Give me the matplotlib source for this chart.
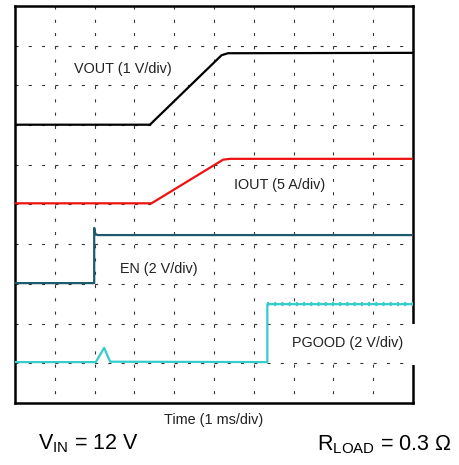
import matplotlib
matplotlib.use("Agg")
import matplotlib.pyplot as plt
from matplotlib.patches import Rectangle

plt.rcParams['font.family'] = ['Liberation Sans', 'DejaVu Sans']
plt.rcParams['mathtext.fontset'] = 'custom'
plt.rcParams['mathtext.rm'] = 'Liberation Sans'
plt.rcParams['lines.scale_dashes'] = False

# ---- data (time in divisions, amplitude in screen divisions) ----
vout_t = [0, 3.39, 5.19, 5.35, 10]
vout_v = [7.01, 7.01, 8.76, 8.81, 8.82]

iout_t = [0, 3.43, 5.23, 5.40, 10]
iout_v = [5.03, 5.03, 6.13, 6.15, 6.15]

en_t = [0, 1.99, 1.99, 2.02, 2.08, 10]
en_v = [3.02, 3.02, 4.41, 4.25, 4.23, 4.23]

pg_t = [0, 2.03, 2.24, 2.39, 6.34, 6.34, 10]
pg_v = [1.03, 1.03, 1.39, 1.04, 1.03, 2.49, 2.49]

labels = ["VOUT (1 V/div)", "IOUT (5 A/div)", "EN (2 V/div)", "PGOOD (2 V/div)"]
xlabel = "Time (1 ms/div)"
note_left = r"$\mathregular{V_{IN}}$ = 12 V"
note_right = r"$\mathregular{R_{LOAD}}$ = 0.3 Ω"

W, H = 459, 465
fig = plt.figure(figsize=(W / 100, H / 100), dpi=100)
L, R, T, B = 15, 413, 6, 403
ax = fig.add_axes([L / W, (H - B) / H, (R - L) / W, (B - T) / H])
ax.set_xlim(0, 10)
ax.set_ylim(0, 10)
ax.set_xticks([])
ax.set_yticks([])
for s in ax.spines.values():
    s.set_linewidth(1.8)
    s.set_color('black')

# grid: short dashes, three per division
gcol = '#333333'
for k in range(1, 10):
    ax.plot([k, k], [10, 0], color=gcol, lw=0.8, dashes=(2.2, 7.35), zorder=1)
    ax.plot([0, 10], [k, k], color=gcol, lw=0.8, dashes=(2.2, 7.35), zorder=1)

ax.plot(vout_t, vout_v, color='black', lw=1.6, zorder=3)
ax.plot(iout_t, iout_v, color='#ee1111', lw=1.6, zorder=3)
ax.plot(en_t, en_v, color='#1d5a6a', lw=1.6, zorder=3)
ax.plot(pg_t, pg_v, color='#35cccc', lw=1.6, zorder=3)
# ripple on the PGOOD high level
ax.plot(pg_t[-2:], pg_v[-2:], color='#35cccc', lw=3.0, dashes=(1.4, 3.8),
        solid_capstyle='butt', zorder=3)

fs = 10.4
box = dict(facecolor='white', edgecolor='none', pad=5)
ax.text(2.71, 8.31, labels[0], ha='center', va='baseline', fontsize=fs, color='#222222', zorder=2, bbox=box)
ax.text(6.66, 5.39, labels[1], ha='center', va='baseline', fontsize=fs, color='#222222', zorder=2, bbox=box)
ax.text(3.62, 3.27, labels[2], ha='center', va='baseline', fontsize=fs, color='#222222', zorder=2, bbox=box)
ax.text(8.35, 1.41, labels[3], ha='center', va='baseline', fontsize=fs, color='#222222', zorder=2,
        bbox=dict(facecolor='white', edgecolor='none', pad=4))

# white patch interrupting the right border behind the PGOOD label
fig.patches.append(Rectangle((405 / W, (H - 365) / H), 15 / W, 41 / H,
                             transform=fig.transFigure, facecolor='white',
                             edgecolor='none', zorder=10))

fig.text(214 / W, (H - 424) / H, xlabel, ha='center', va='baseline', fontsize=fs, color='#222222')
fig.text(38 / W, (H - 449) / H, note_left, ha='left', va='baseline', fontsize=15.5, color='black')
fig.text(452 / W, (H - 450) / H, note_right, ha='right', va='baseline', fontsize=15.5, color='black')

fig.savefig('out.png', dpi=100, facecolor='white')
